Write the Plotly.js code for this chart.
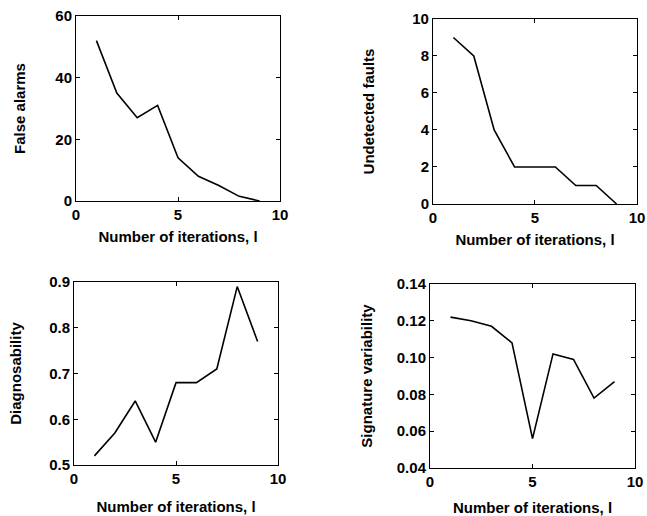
<!DOCTYPE html>
<html>
<head>
<meta charset="utf-8">
<script src="https://cdn.plot.ly/plotly-3.0.1.min.js"></script>
<style>html,body{margin:0;padding:0;background:#fff;}#chart{width:647px;height:516px;}</style>
</head>
<body>
<div id="chart"></div>
<script>
const iterations = [1, 2, 3, 4, 5, 6, 7, 8, 9];
const falseAlarms = [52, 35, 27, 31, 14, 8, 5, 1.5, 0];
const undetectedFaults = [9, 8, 4, 2, 2, 2, 1, 1, 0];
const diagnosability = [0.52, 0.57, 0.64, 0.55, 0.68, 0.68, 0.71, 0.89, 0.77];
const signatureVariability = [0.122, 0.120, 0.117, 0.108, 0.056, 0.102, 0.099, 0.078, 0.087];
const xTitle = 'Number of iterations, l';
const yTitles = ['False alarms', 'Undetected faults', 'Diagnosability', 'Signature variability'];

const font = {family: '"Liberation Sans", Arial, sans-serif', size: 15, color: '#000', weight: 'bold'};
const line = {color: '#000', width: 1.6};

function trace(y, ax) {
  return {x: iterations, y: y, type: 'scatter', mode: 'lines', line: line,
          xaxis: 'x' + ax, yaxis: 'y' + ax, showlegend: false, hoverinfo: 'skip'};
}
function xa(domain, anchor, standoff) {
  return {domain: domain, anchor: anchor, range: [0, 10], tickvals: [0, 5, 10],
          ticks: 'inside', ticklen: 4, tickcolor: '#000', showline: true, mirror: 'allticks',
          linecolor: '#000', linewidth: 1, showgrid: false, zeroline: false,
          tickfont: font, title: {text: xTitle, font: font, standoff: standoff}};
}
function ya(domain, anchor, range, dtick, fmt, title, standoff) {
  return {domain: domain, anchor: anchor, range: range, dtick: dtick, tick0: range[0], tickformat: fmt,
          ticks: 'inside', ticklen: 4, tickcolor: '#000', showline: true, mirror: 'allticks',
          linecolor: '#000', linewidth: 1, showgrid: false, zeroline: false,
          tickfont: font, title: {text: title, font: font, standoff: standoff}};
}

const data = [
  trace(falseAlarms, ''), trace(undetectedFaults, '2'),
  trace(diagnosability, '3'), trace(signatureVariability, '4')
];

const layout = {
  width: 647, height: 516,
  margin: {l: 0, r: 0, t: 0, b: 0},
  paper_bgcolor: '#fff', plot_bgcolor: '#fff',
  font: font,
  xaxis: xa([0.1175, 0.4328], 'y', 9),
  yaxis: ya([0.6105, 0.969], 'x', [0, 60], 20, 'd', yTitles[0], 26),
  xaxis2: xa([0.6692, 0.9845], 'y2', 9),
  yaxis2: ya([0.6047, 0.9632], 'x2', [0, 10], 2, 'd', yTitles[1], 34),
  xaxis3: xa([0.1144, 0.4297], 'y3', 15),
  yaxis3: ya([0.0988, 0.4535], 'x3', [0.5, 0.9], 0.1, '.1f', yTitles[2], 23),
  xaxis4: xa([0.6646, 0.9815], 'y4', 14),
  yaxis4: ya([0.093, 0.4496], 'x4', [0.04, 0.14], 0.02, '.2f', yTitles[3], 20)
};

Plotly.newPlot('chart', data, layout, {staticPlot: true, displayModeBar: false});
</script>
</body>
</html>
